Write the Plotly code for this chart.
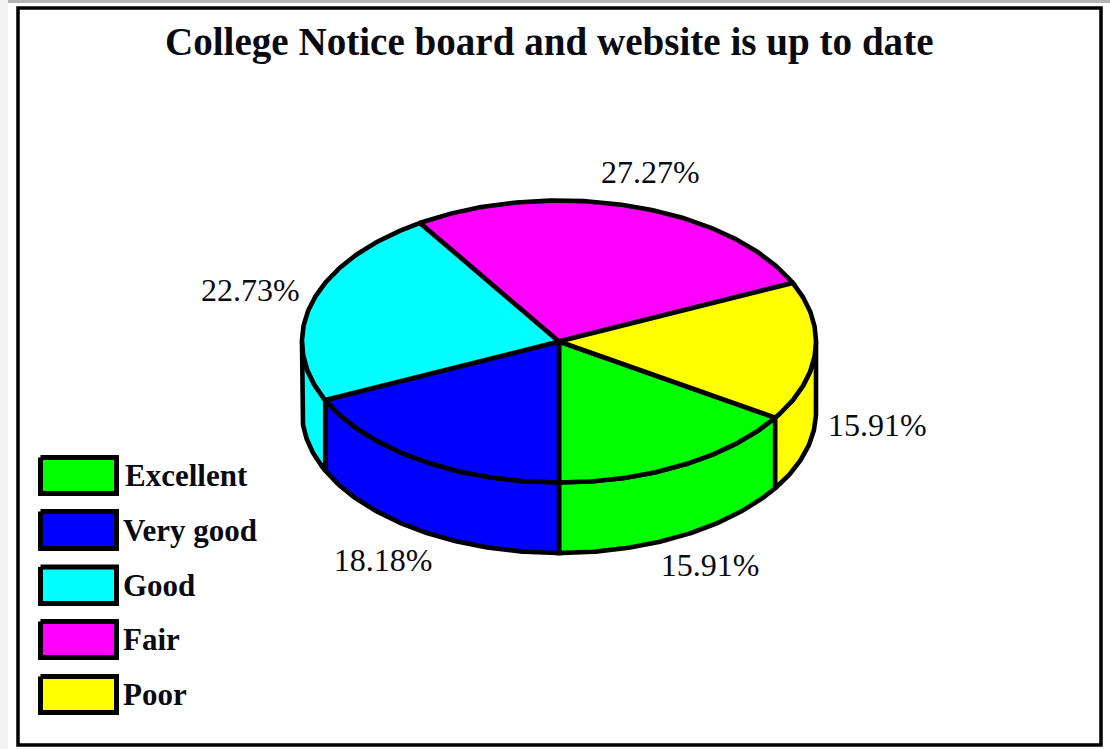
import numpy as np
import plotly.graph_objects as go

# ---- data ----
title_text = "College Notice board and website is up to date"
categories = ["Excellent", "Very good", "Good", "Fair", "Poor"]
percent = [15.91, 18.18, 22.73, 27.27, 15.91]
colors = ["#00FF00", "#0000FF", "#00FFFF", "#FF00FF", "#FFFF00"]

# ---- geometry / style ----
W, H = 1110, 749
CX, CY, RX, RY, DEPTH = 559, 341.5, 257, 141, 70.5
LW = 4.6
INK = "#000000"
TEXT = "#0a0a12"
FONT = "Liberation Serif"
LABEL_OFFSETS = [(28, 103), (-37, 103), (-62, -9), (19, -31), (62, 76)]
SWATCH_X = (40.5, 116.5)
SWATCH_Y = [(457.5, 493.5), (511.5, 548.5), (567, 603.5), (621.5, 657.5), (676.5, 712.5)]
LEGEND_TEXT_X = [122.5, 121, 121, 121, 121]


def rim(a_deg):
    a = np.radians(a_deg)
    return CX - RX * np.sin(a), CY + RY * np.cos(a)


def arc(a0, a1):
    n = max(2, int(abs(a1 - a0) * 2))
    return rim(np.linspace(a0, a1, n))


fig = go.Figure()

total = sum(percent)
sweeps = [p / total * 360 for p in percent]
starts = [-sweeps[0] + sum(sweeps[:i]) for i in range(len(sweeps))]

# side walls: visible front half only
for s, w, c in zip(starts, sweeps, colors):
    for lo, hi in ((-90, 90), (270, 450)):
        a0, a1 = max(s, lo), min(s + w, hi)
        if a1 > a0:
            x, y = arc(a0, a1)
            fig.add_trace(go.Scatter(
                x=np.r_[x, x[::-1], x[0]], y=np.r_[y, y[::-1] + DEPTH, y[0]],
                mode="lines", fill="toself", fillcolor=c,
                line=dict(color=INK, width=LW), hoverinfo="skip"))

# top face
for s, w, c, name in zip(starts, sweeps, colors, categories):
    x, y = arc(s, s + w)
    fig.add_trace(go.Scatter(
        x=np.r_[CX, x, CX], y=np.r_[CY, y, CY],
        mode="lines", fill="toself", fillcolor=c, name=name,
        line=dict(color=INK, width=LW), hoverinfo="skip"))

# percentage labels, placed from each slice's mid-angle
for s, w, p, (dx, dy) in zip(starts, sweeps, percent, LABEL_OFFSETS):
    mx, my = rim(s + w / 2)
    fig.add_trace(go.Scatter(
        x=[float(mx) + dx], y=[float(my) + dy], mode="text",
        text=[f"{p:.2f}%"], textposition="middle center",
        textfont=dict(family=FONT, size=32, color=TEXT), hoverinfo="skip"))

# legend swatches
for (y0, y1), c in zip(SWATCH_Y, colors):
    x0, x1 = SWATCH_X
    fig.add_trace(go.Scatter(
        x=[x0, x1, x1, x0, x0], y=[y0, y0, y1, y1, y0],
        mode="lines", fill="toself", fillcolor=c,
        line=dict(color=INK, width=5), hoverinfo="skip"))

annotations = [dict(x=549, y=42, text=f"<b>{title_text}</b>", showarrow=False,
                    font=dict(family=FONT, size=39.1, color=TEXT),
                    xanchor="center", yanchor="middle")]
for name, (y0, y1), tx in zip(categories, SWATCH_Y, LEGEND_TEXT_X):
    annotations.append(dict(x=tx, y=(y0 + y1) / 2, text=f"<b>{name}</b>", showarrow=False,
                            font=dict(family=FONT, size=31, color=TEXT),
                            xanchor="left", yanchor="middle"))

shapes = [
    dict(type="rect", x0=0, x1=8, y0=0, y1=H, fillcolor="#f3f3f3", line_width=0, layer="below"),
    dict(type="rect", x0=8, x1=W, y0=0, y1=3, fillcolor="#b4b4b4", line_width=0, layer="below"),
    dict(type="rect", x0=18, x1=1101, y0=8, y1=745, fillcolor="rgba(0,0,0,0)",
         line=dict(color=INK, width=3.5), layer="below"),
]

fig.update_layout(
    width=W, height=H, margin=dict(l=0, r=0, t=0, b=0),
    paper_bgcolor="white", plot_bgcolor="white", showlegend=False,
    xaxis=dict(range=[0, W], visible=False, fixedrange=True),
    yaxis=dict(range=[H, 0], visible=False, fixedrange=True),
    annotations=annotations, shapes=shapes,
)

fig.write_html("out.html", config=dict(displayModeBar=False),
               post_script="document.body.style.margin='0';")
